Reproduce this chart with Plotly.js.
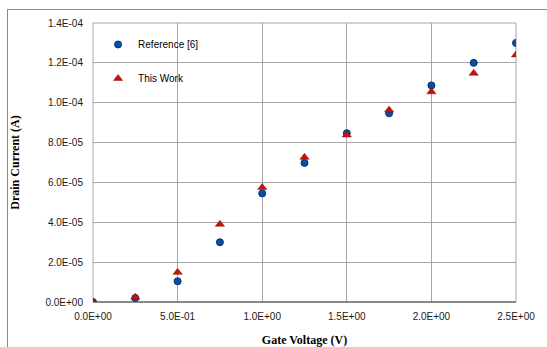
<!DOCTYPE html>
<html>
<head>
<meta charset="utf-8">
<script src="https://cdn.plot.ly/plotly-3.0.1.min.js"></script>
<style>
  html, body { margin: 0; padding: 0; background: #fff; overflow: hidden; }
  #wrap { position: relative; width: 547px; height: 347px; overflow: hidden; }
  #chart { width: 547px; height: 347px; }
  #frame { position: absolute; left: 7px; top: 9px; width: 600px; height: 400px;
           border: 1px solid #8c8c8c; box-sizing: border-box; pointer-events: none; }
</style>
</head>
<body>
<div id="wrap">
  <div id="chart"></div>
  <div id="frame"></div>
</div>
<script>
// Data
const gateVoltage = [0, 0.25, 0.5, 0.75, 1.0, 1.25, 1.5, 1.75, 2.0, 2.25, 2.5];
const referenceCurrent = [0, 2.0e-6, 1.04e-5, 3.0e-5, 5.45e-5, 6.98e-5, 8.47e-5, 9.47e-5, 1.087e-4, 1.2e-4, 1.3e-4];
const thisWorkCurrent = [0, 2.4e-6, 1.49e-5, 3.9e-5, 5.75e-5, 7.26e-5, 8.38e-5, 9.63e-5, 1.055e-4, 1.148e-4, 1.24e-4];

const xTickVals = [0, 0.5, 1.0, 1.5, 2.0, 2.5];
const xTickText = ["0.0E+00", "5.0E-01", "1.0E+00", "1.5E+00", "2.0E+00", "2.5E+00"];
const yTickVals = [0, 2e-5, 4e-5, 6e-5, 8e-5, 1e-4, 1.2e-4, 1.4e-4];
const yTickText = ["0.0E+00", "2.0E-05", "4.0E-05", "6.0E-05", "8.0E-05", "1.0E-04", "1.2E-04", "1.4E-04"];

const seriesNames = ["Reference [6]", "This Work"];

const traces = [
  {
    x: gateVoltage, y: referenceCurrent, name: seriesNames[0],
    type: "scatter", mode: "markers", legendgroup: "a",
    marker: { symbol: "circle", size: 7, color: "#0a4fa6", line: { color: "#06306e", width: 1 } }
  },
  {
    x: gateVoltage, y: thisWorkCurrent, name: seriesNames[1],
    type: "scatter", mode: "markers", legendgroup: "b",
    marker: { symbol: "triangle-up", size: 8, color: "#c8120c", line: { color: "#8a0a06", width: 0.5 } }
  }
];

const tickFont = { family: "Liberation Sans, Arial, sans-serif", size: 10, color: "#1a1a1a" };
const titleFont = { family: "Liberation Serif, Times New Roman, serif", size: 12, color: "#000", weight: "bold" };

const layout = {
  width: 547, height: 347,
  margin: { l: 93, r: 31, t: 23, b: 45 },
  paper_bgcolor: "rgba(0,0,0,0)",
  plot_bgcolor: "#ffffff",
  showlegend: true,
  legend: {
    x: 0.012, y: 0.975, xanchor: "left", yanchor: "top",
    traceorder: "grouped", tracegroupgap: 15,
    bgcolor: "rgba(0,0,0,0)", borderwidth: 0,
    font: { family: "Liberation Sans, Arial, sans-serif", size: 10, color: "#000" }
  },
  xaxis: {
    range: [0, 2.5], tickvals: xTickVals, ticktext: xTickText,
    showgrid: true, gridcolor: "#a6a6a6", gridwidth: 1,
    zeroline: false, showline: false, ticks: "",
    tickfont: tickFont, ticklabelstandoff: 7,
    title: { text: "<b>Gate Voltage (V)</b>", font: titleFont, standoff: 14 },
    mirror: false
  },
  yaxis: {
    range: [0, 1.4e-4], tickvals: yTickVals, ticktext: yTickText,
    showgrid: true, gridcolor: "#a6a6a6", gridwidth: 1,
    zeroline: false, showline: false, ticks: "",
    tickfont: tickFont, ticklabelstandoff: 9,
    title: { text: "<b>Drain Current (A)</b>", font: titleFont, standoff: 23 }
  },
  shapes: [
    // plot area border (gray)
    { type: "rect", xref: "paper", yref: "paper", x0: 0, x1: 1, y0: 0, y1: 1,
      line: { color: "#a6a6a6", width: 1 }, layer: "below" },
    // dark x axis line
    { type: "line", xref: "paper", yref: "paper", x0: 0, x1: 1, y0: 0, y1: 0,
      line: { color: "#404040", width: 1.2 } }
  ]
};

Plotly.newPlot("chart", traces, layout, { displayModeBar: false, staticPlot: true });
</script>
</body>
</html>
